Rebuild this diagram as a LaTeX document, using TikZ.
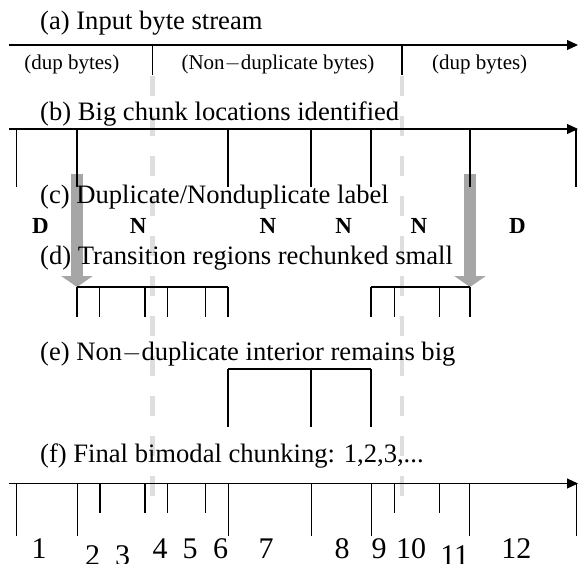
\documentclass[tikz,border=0pt]{standalone}
\usepackage{fontspec}
\setmainfont{Liberation Serif}
\usetikzlibrary{arrows.meta}

\begin{document}
\begin{tikzpicture}[
  x=1pt, y=-1pt,
  title/.style={anchor=base west, inner sep=0pt, font=\fontsize{26.6}{30}\selectfont},
  bytes/.style={anchor=base, inner sep=0pt, font=\fontsize{21}{24}\selectfont},
  tag/.style={anchor=base, inner sep=0pt, font=\fontsize{23}{26}\selectfont\bfseries},
  num/.style={anchor=base, inner sep=0pt, font=\fontsize{30}{34}\selectfont},
  stream/.style={line width=1.1pt, -{Triangle[length=11pt,width=10pt]}},
  cut/.style={line width=1.1pt},
  guide/.style={line width=4.5pt, black!13, dash pattern=on 20pt off 20pt},
  pushdown/.style={line width=12pt, black!35, -{Triangle[length=11pt,width=31pt]}},
]
\useasboundingbox (0,0) rectangle (578,563);

% boundaries of the non-duplicate region
\coordinate (g1top) at (152.7,76);  \coordinate (g1bot) at (152.7,500);
\coordinate (g2top) at (402,76);    \coordinate (g2bot) at (402,500);
\draw[guide] (g1top) -- (g1bot);
\draw[guide] (g2top) -- (g2bot);

% transitions pushed down to small chunking
\coordinate (s1top) at (77,174);  \coordinate (s1tip) at (77,287);
\coordinate (s2top) at (470,174); \coordinate (s2tip) at (470,287);
\draw[pushdown] (s1top) -- (s1tip);
\draw[pushdown] (s2top) -- (s2tip);

% (a) input stream
\node[title] (ta) at (40,29) {(a) Input byte stream};
\coordinate (a0) at (9,45); \coordinate (a1) at (578,45);
\draw[stream] (a0) -- (a1);
\foreach \x in {152.7,402} \draw[cut] (\x,45) -- (\x,75);
\node[bytes] (dup1) at (71.8,69)  {(dup bytes)};
\node[bytes] (nond) at (278,69)   {(Non$-$duplicate bytes)};
\node[bytes] (dup2) at (479.7,69) {(dup bytes)};

% (b) big chunks
\node[title] (tb) at (40,120.5) {(b) Big chunk locations identified};
\coordinate (b0) at (9,129); \coordinate (b1) at (578,129);
\draw[stream] (b0) -- (b1);
\foreach \x in {16.7,77,228,311,371,470,576} \draw[cut] (\x,129) -- (\x,187);

% (c) labels
\node[title] (tc) at (40,203) {(c) Duplicate/Nonduplicate label};
\node[tag] (l1) at (40.5,233)  {D};
\node[tag] (l2) at (138.3,233) {N};
\node[tag] (l3) at (268,233)   {N};
\node[tag] (l4) at (343.7,233) {N};
\node[tag] (l5) at (419,233)   {N};
\node[tag] (l6) at (517.5,233) {D};

% (d) small rechunking
\node[title] (td) at (40,264) {(d) Transition regions rechunked small};
\draw[cut] (77,287) -- (228,287);
\draw[cut] (371,287) -- (470,287);
\foreach \x in {77,99.7,145,167.7,205.5,228,371,394.7,439.7,470}
  \draw[cut] (\x,287) -- (\x,317);

% (e) big interior
\node[title] (te) at (40,360) {(e) Non$-$duplicate interior remains big};
\draw[cut] (228,369) -- (371,369);
\foreach \x in {228,311,371} \draw[cut] (\x,369) -- (\x,427);

% (f) final result
\node[title] (tf) at (40,462.5) {(f) Final bimodal chunking: 1,2,3,...};
\coordinate (f0) at (9,483.5); \coordinate (f1) at (578,483.5);
\draw[stream] (f0) -- (f1);
\foreach \x in {16.7,77.3,228.3,311.3,371.3,469.7,576.3} \draw[cut] (\x,483.5) -- (\x,536);
\foreach \x in {100,145,167.7,205.7,394.7,439.7} \draw[cut] (\x,483.5) -- (\x,513.3);
\node[num] (n1)  at (39,558)    {1};
\node[num] (n2)  at (92.5,565)  {2};
\node[num] (n3)  at (122.5,565) {3};
\node[num] (n4)  at (160,558)   {4};
\node[num] (n5)  at (190,558)   {5};
\node[num] (n6)  at (220.5,558) {6};
\node[num] (n7)  at (266,558)   {7};
\node[num] (n8)  at (342,558)   {8};
\node[num] (n9)  at (379,558)   {9};
\node[num] (n10) at (411,558)   {10};
\node[num] (n11) at (454.7,565) {11};
\node[num] (n12) at (516.3,558) {12};
\end{tikzpicture}
\end{document}
